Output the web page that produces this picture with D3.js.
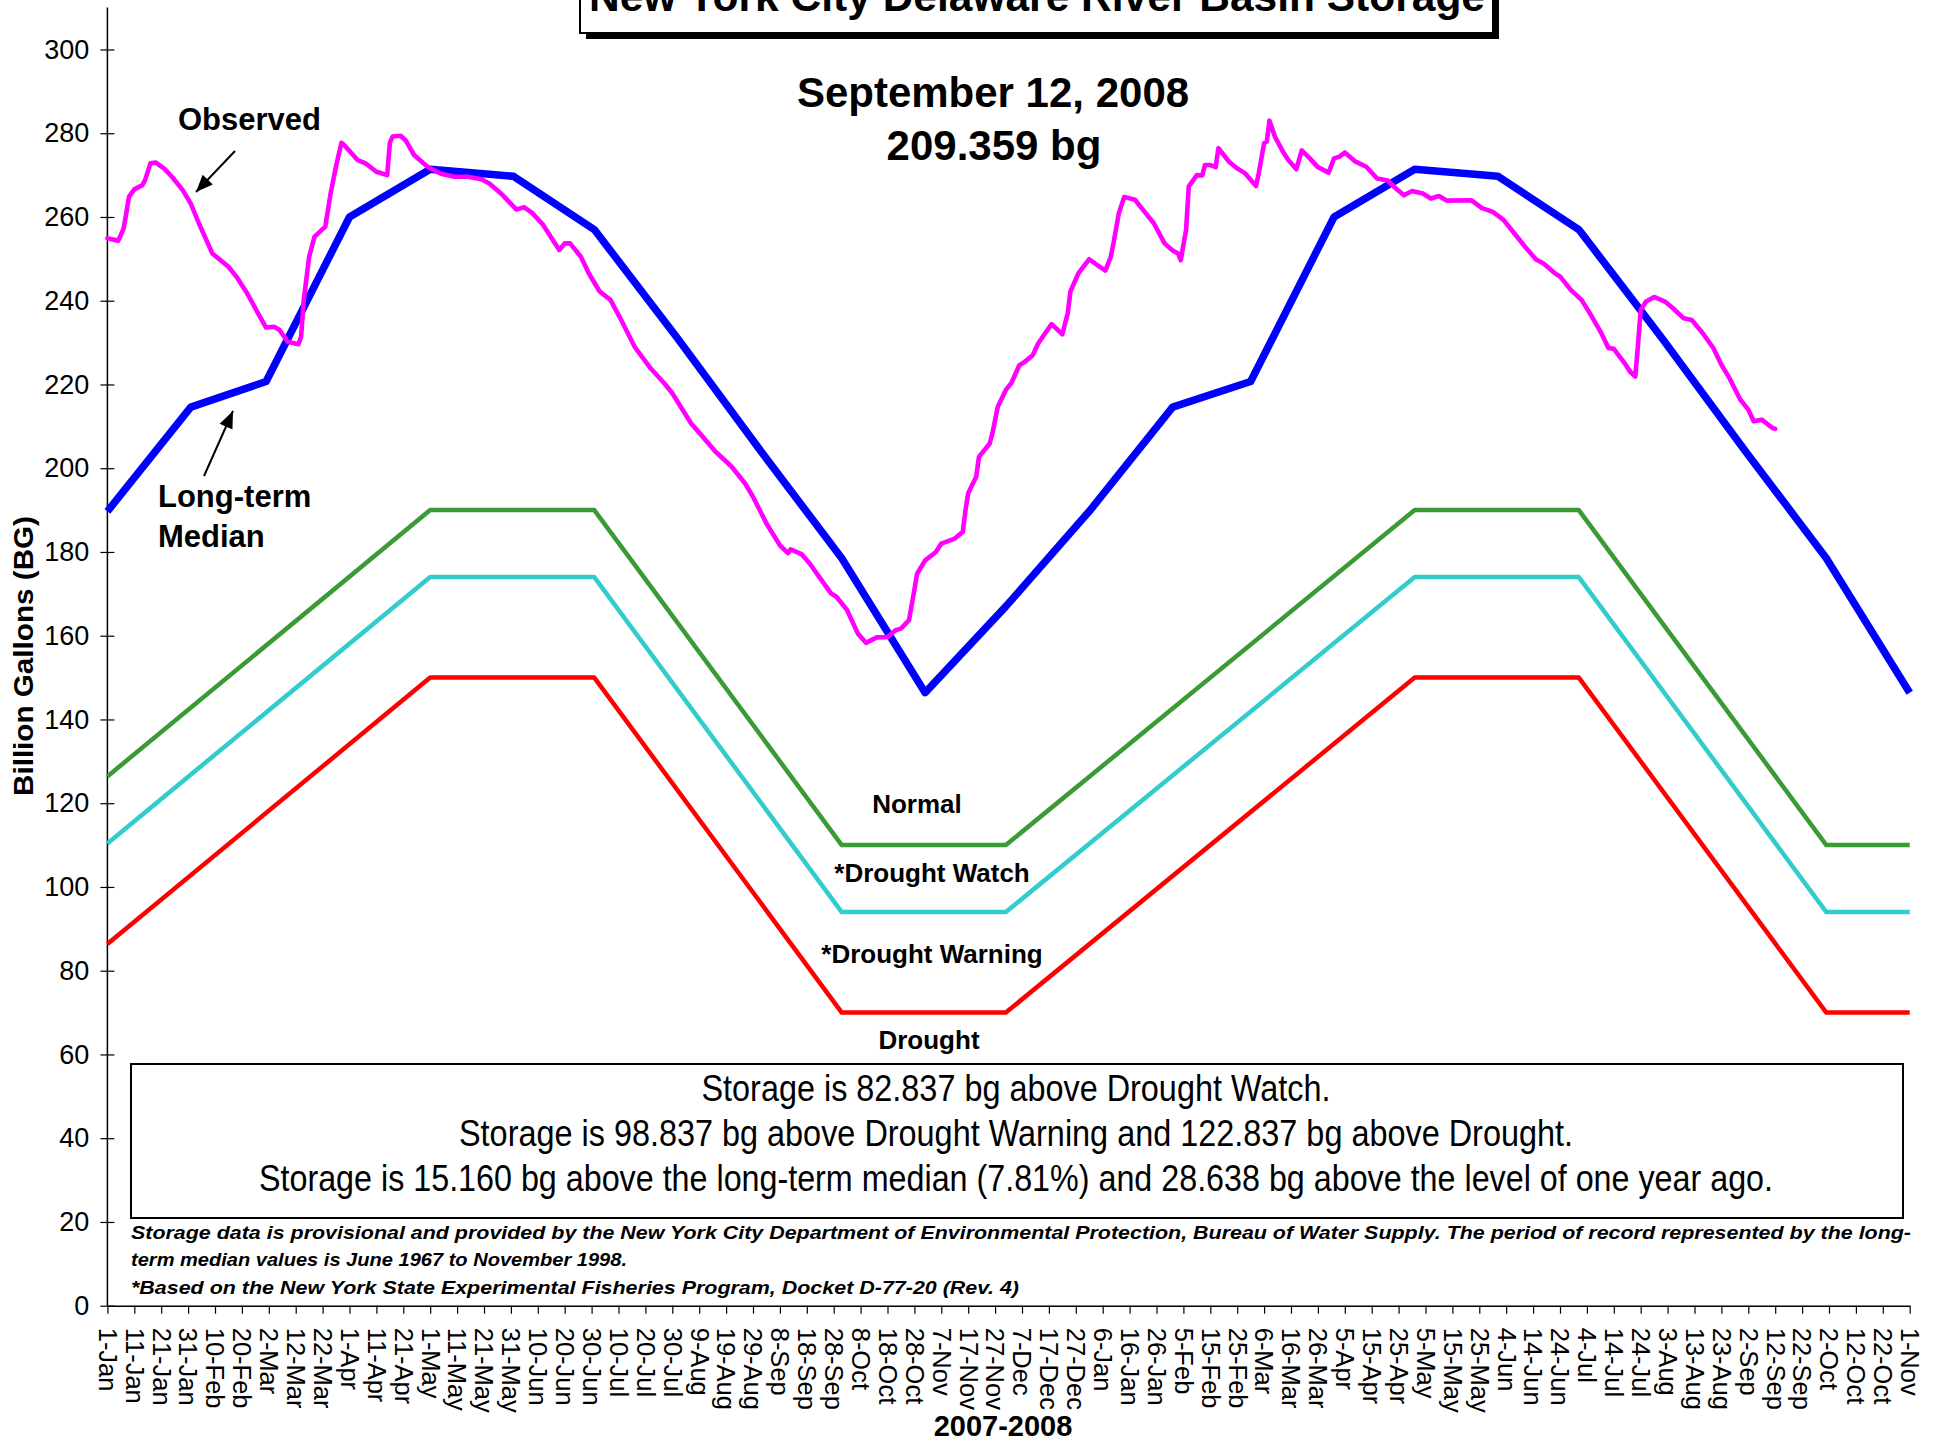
<!DOCTYPE html>
<html><head><meta charset="utf-8">
<script src="https://cdn.jsdelivr.net/npm/d3@7"></script>
<style>
body{margin:0;background:#fff;}
svg{display:block;font-family:"Liberation Sans",Arial,Helvetica,sans-serif;}
</style>
</head><body>
<svg id="chart" width="1935" height="1441"></svg>
<script>
// ---------------- DATA ----------------
const startDate = "2007-01-01";
const endDate = "2008-11-01";
const yTicks = [0,20,40,60,80,100,120,140,160,180,200,220,240,260,280,300];
const tickLabels = ["1-Jan","11-Jan","21-Jan","31-Jan","10-Feb","20-Feb","2-Mar","12-Mar","22-Mar","1-Apr","11-Apr","21-Apr","1-May","11-May","21-May","31-May","10-Jun","20-Jun","30-Jun","10-Jul","20-Jul","30-Jul","9-Aug","19-Aug","29-Aug","8-Sep","18-Sep","28-Sep","8-Oct","18-Oct","28-Oct","7-Nov","17-Nov","27-Nov","7-Dec","17-Dec","27-Dec",
"6-Jan","16-Jan","26-Jan","5-Feb","15-Feb","25-Feb","6-Mar","16-Mar","26-Mar","5-Apr","15-Apr","25-Apr","5-May","15-May","25-May","4-Jun","14-Jun","24-Jun","4-Jul","14-Jul","24-Jul","3-Aug","13-Aug","23-Aug","2-Sep","12-Sep","22-Sep","2-Oct","12-Oct","22-Oct","1-Nov"];

const medianDates = ["2007-01-01","2007-02-01","2007-03-01","2007-04-01","2007-05-01","2007-06-01","2007-07-01","2007-08-01","2007-09-01","2007-10-01","2007-11-01","2007-12-01",
"2008-01-01","2008-02-01","2008-03-01","2008-04-01","2008-05-01","2008-06-01","2008-07-01","2008-08-01","2008-09-01","2008-10-01","2008-11-01"];
const medianValues = [189.7,214.6,220.7,260.0,271.4,269.7,257.0,231.0,204.0,178.5,146.4,167.0,
189.7,214.6,220.7,260.0,271.4,269.7,257.0,231.0,204.0,178.5,146.4];

const thresholdDates = ["2007-01-01","2007-05-01","2007-07-01","2007-10-01","2007-12-01","2008-05-01","2008-07-01","2008-10-01","2008-11-01"];
const normalValues  = [126.4,190,190,110,110,190,190,110,110];
const watchValues   = [110.4,174,174,94,94,174,174,94,94];
const warningValues = [86.4,150,150,70,70,150,150,70,70];

// Observed storage: [days since 1-Jan-2007, billion gallons]
const observed = [[0,254.9],[2,254.6],[4,254.3],[6,257.2],[7,260.8],[8,264.8],[10,266.6],[13,267.6],[14,268.8],[16,272.8],[18,273.0],[21,271.6],[24,269.6],[28,266.4],[31,263.2],[34,258.5],[39,251.3],[45,248.1],[48,245.7],[52,241.7],[56,237.0],[59,233.6],[62,233.8],[64,233.0],[67,230.2],[71,229.6],[72,231.4],[73,240.2],[75,250.5],[77,255.3],[79,256.5],[81,257.7],[83,265.7],[85,272.1],[87,277.7],[88,277.2],[93,273.6],[96,272.8],[100,270.8],[104,270.0],[105,277.7],[106,279.2],[109,279.4],[111,278.2],[114,274.8],[119,272.0],[124,270.3],[129,269.6],[134,269.6],[139,269.0],[142,268.0],[146,265.8],[148,264.5],[152,261.8],[155,262.3],[158,260.9],[162,258.1],[166,254.1],[168,252.1],[170,253.7],[172,253.7],[176,250.5],[179,246.5],[183,242.2],[187,240.2],[191,235.4],[196,229.0],[202,223.8],[207,220.3],[210,217.9],[217,210.7],[220,208.5],[226,204.0],[232,200.4],[237,196.4],[240,193.2],[245,186.8],[250,181.6],[253,179.7],[254,180.6],[258,179.5],[261,177.3],[265,173.7],[269,170.1],[271,169.3],[275,166.1],[279,160.5],[282,158.3],[286,159.6],[290,159.7],[293,161.3],[295,161.7],[298,163.7],[300,171.0],[301,174.8],[304,178.0],[308,180.0],[310,182.0],[315,183.2],[318,184.8],[319,190.0],[320,194.0],[323,198.0],[324,202.7],[328,205.9],[329,208.3],[331,214.7],[334,218.7],[336,220.3],[339,224.6],[341,225.4],[344,227.0],[346,229.8],[349,232.6],[351,234.4],[355,232.0],[357,237.0],[358,242.2],[361,246.6],[365,249.9],[368,248.5],[371,247.2],[373,250.5],[374,253.7],[376,260.9],[378,264.8],[382,264.1],[385,261.7],[389,258.5],[393,253.7],[396,252.0],[398,251.3],[399,249.7],[401,256.9],[402,267.3],[405,270.0],[407,269.9],[408,272.4],[410,272.4],[412,271.9],[413,276.4],[417,273.2],[420,271.6],[423,270.4],[427,267.4],[428,270.4],[430,277.6],[431,278.0],[432,283.0],[434,279.2],[437,275.6],[439,273.6],[442,271.4],[444,275.9],[447,274.0],[450,271.9],[454,270.6],[456,274.0],[458,274.4],[460,275.4],[464,273.2],[468,272.0],[472,269.2],[476,268.7],[479,266.8],[482,265.2],[485,266.2],[489,265.6],[492,264.4],[495,265.0],[498,263.9],[507,264.0],[511,262.1],[515,261.2],[519,259.3],[523,256.1],[527,252.9],[531,249.9],[534,248.8],[538,246.6],[540,245.8],[544,242.6],[548,240.2],[551,237.1],[555,232.7],[558,228.7],[560,228.5],[564,225.1],[566,223.1],[568,221.9],[569,229.5],[570,237.8],[572,239.8],[575,240.9],[579,239.8],[582,238.2],[586,235.8],[589,235.4],[593,232.3],[597,228.7],[600,224.7],[603,221.5],[607,216.4],[610,214.0],[612,211.2],[615,211.6],[619,209.6],[620,209.4]];

const titleText = "New York City Delaware River Basin Storage";
const dateText = "September 12, 2008";
const storageText = "209.359 bg";
const boxLines = ["Storage is 82.837 bg above Drought Watch.",
 "Storage is 98.837 bg above Drought Warning and 122.837 bg above Drought.",
 "Storage is 15.160 bg above the long-term median (7.81%) and 28.638 bg above the level of one year ago."];
const footLines = ["Storage data is provisional and provided by the New York City Department of Environmental Protection, Bureau of Water Supply. The period of record represented by the long-",
 "term median values is June 1967 to November 1998.",
 "*Based on the New York State Experimental Fisheries Program, Docket D-77-20 (Rev. 4)"];

// ---------------- CHART ----------------
const svg = d3.select("#chart");
const parse = d3.utcParse("%Y-%m-%d");
const t0 = parse(startDate);
const x = d3.scaleUtc().domain([t0, parse(endDate)]).range([107.4, 1909.7]);
const y = d3.scaleLinear().domain([0, 310]).range([1305.7, 7.6]);

// Title box
const tb = {x:580, y:-20, w:913, h:53};
svg.append("rect").attr("x",tb.x+6).attr("y",tb.y+6).attr("width",tb.w).attr("height",tb.h).attr("fill","#000");
svg.append("rect").attr("x",tb.x).attr("y",tb.y).attr("width",tb.w).attr("height",tb.h).attr("fill","#fff").attr("stroke","#000").attr("stroke-width",2);
svg.append("text").attr("x",1037).attr("y",11).attr("text-anchor","middle")
  .attr("font-size",42).attr("font-weight","bold").attr("textLength",896).attr("lengthAdjust","spacingAndGlyphs").text(titleText);

// Axes
const yAxis = svg.append("g").attr("transform",`translate(${x.range()[0]},0)`)
  .call(d3.axisLeft(y).tickValues(yTicks).tickSizeOuter(0).tickSizeInner(7).tickPadding(11));
yAxis.select(".domain").attr("d",`M0,${y(310)}V${y(0)}`).attr("stroke","#000").attr("stroke-width",1.5);
yAxis.selectAll(".tick line").attr("x1",-7).attr("x2",7).attr("stroke","#000").attr("stroke-width",1.2);
yAxis.selectAll(".tick text").attr("font-size",27).attr("font-family","Liberation Sans, Arial, sans-serif").attr("fill","#000").attr("x",-18);

const tickDates = tickLabels.map((d,i)=>d3.utcDay.offset(t0, i*10));
const xAxis = svg.append("g").attr("transform",`translate(0,${y(0)})`)
  .call(d3.axisBottom(x).tickValues(tickDates).tickFormat((d,i)=>tickLabels[i]).tickSizeOuter(0).tickSizeInner(8));
xAxis.select(".domain").attr("stroke","#000").attr("stroke-width",1.5);
xAxis.selectAll(".tick line").attr("stroke","#000").attr("stroke-width",1.2);
xAxis.selectAll(".tick text").attr("font-size",25.5).attr("font-family","Liberation Sans, Arial, sans-serif").attr("fill","#000")
  .attr("transform","rotate(90)").attr("x",22).attr("y",0).attr("dy","0.36em").style("text-anchor","start");

// Axis titles
svg.append("text").attr("transform","translate(33,656) rotate(-90)").attr("text-anchor","middle")
  .attr("font-size",28).attr("font-weight","bold").attr("textLength",280).attr("lengthAdjust","spacingAndGlyphs").text("Billion Gallons (BG)");
svg.append("text").attr("x",1003).attr("y",1436).attr("text-anchor","middle")
  .attr("font-size",29).attr("font-weight","bold").text("2007-2008");

// Lines
const lineD = d3.line().x(d=>x(d[0])).y(d=>y(d[1]));
function series(dates, vals){ return dates.map((d,i)=>[parse(d), vals[i]]); }
const thresholds = [[normalValues,"#3a9a35"],[watchValues,"#33cccc"],[warningValues,"#ff0000"]];
thresholds.forEach(([vals,col])=>{
  svg.append("path").datum(series(thresholdDates, vals)).attr("d",lineD)
    .attr("fill","none").attr("stroke",col).attr("stroke-width",4.5).attr("stroke-linejoin","round");
});
svg.append("path").datum(series(medianDates, medianValues)).attr("d",lineD)
  .attr("fill","none").attr("stroke","#0000ff").attr("stroke-width",7.5).attr("stroke-linejoin","round");
svg.append("path").datum(observed.map(d=>[d3.utcDay.offset(t0,d[0]), d[1]])).attr("d",lineD)
  .attr("fill","none").attr("stroke","#ff00ff").attr("stroke-width",4.6).attr("stroke-linejoin","round").attr("stroke-linecap","round");

// Headline
svg.append("text").attr("x",993).attr("y",107).attr("text-anchor","middle").attr("font-size",42).attr("font-weight","bold").text(dateText);
svg.append("text").attr("x",994).attr("y",160).attr("text-anchor","middle").attr("font-size",42).attr("font-weight","bold").text(storageText);

// Annotations
svg.append("text").attr("x",178).attr("y",130).attr("font-size",31).attr("font-weight","bold").text("Observed");
svg.append("text").attr("x",158).attr("y",507).attr("font-size",31).attr("font-weight","bold").text("Long-term");
svg.append("text").attr("x",158).attr("y",547).attr("font-size",31).attr("font-weight","bold").text("Median");
function arrow(x1,y1,x2,y2){
  svg.append("line").attr("x1",x1).attr("y1",y1).attr("x2",x2).attr("y2",y2).attr("stroke","#000").attr("stroke-width",2);
  const a = Math.atan2(y2-y1,x2-x1), L=17, W=7;
  const bx = x2-L*Math.cos(a), by = y2-L*Math.sin(a);
  const p = [[x2,y2],[bx+W*Math.sin(a),by-W*Math.cos(a)],[bx-W*Math.sin(a),by+W*Math.cos(a)]];
  svg.append("path").attr("d","M"+p.map(q=>q.join(",")).join("L")+"Z").attr("fill","#000");
}
arrow(235,151,196,192);
arrow(204,476,233,411);

const zoneLabels = [["Normal",917,813],["*Drought Watch",932,882],["*Drought Warning",932,963],["Drought",929,1049]];
zoneLabels.forEach(([t,xx,yy])=>svg.append("text").attr("x",xx).attr("y",yy).attr("text-anchor","middle").attr("font-size",26).attr("font-weight","bold").text(t));

// Text box
svg.append("rect").attr("x",131).attr("y",1064).attr("width",1772).attr("height",154).attr("fill","#fff").attr("stroke","#000").attr("stroke-width",2);
const boxY = [1101,1146,1191], boxW = [629,1114,1514];
boxLines.forEach((t,i)=>svg.append("text").attr("x",1016).attr("y",boxY[i]).attr("text-anchor","middle")
  .attr("font-size",37).attr("textLength",boxW[i]).attr("lengthAdjust","spacingAndGlyphs").text(t));

const footY = [1239,1266,1294], footW = [1780,496,888];
footLines.forEach((t,i)=>svg.append("text").attr("x",131).attr("y",footY[i])
  .attr("font-size",19).attr("font-weight","bold").attr("font-style","italic")
  .attr("textLength",footW[i]).attr("lengthAdjust","spacingAndGlyphs").text(t));
</script>
</body></html>
